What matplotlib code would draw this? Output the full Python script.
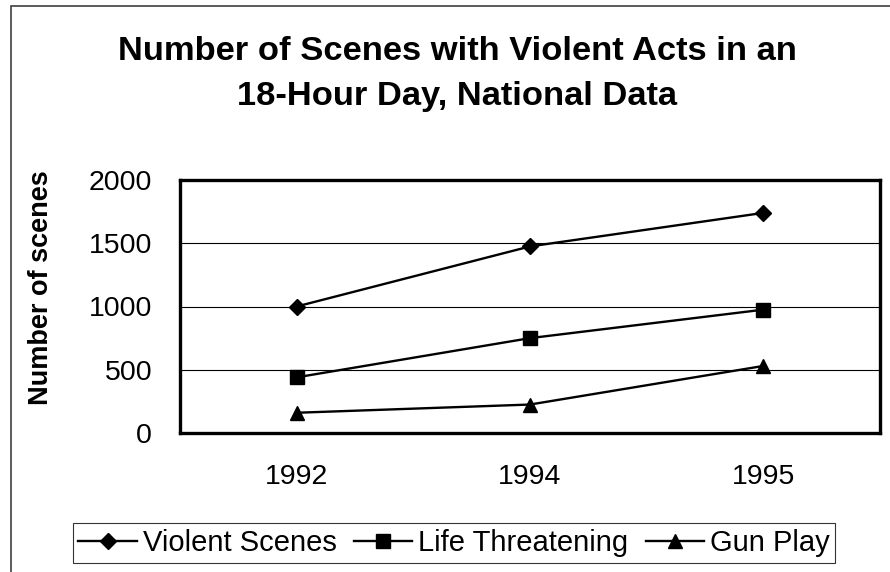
import matplotlib.pyplot as plt
from matplotlib.patches import Rectangle

plt.rcParams['font.family'] = ['Liberation Sans', 'DejaVu Sans']

# Datos
years = ['1992', '1994', '1995']
violent_scenes = [1000, 1475, 1740]
life_threatening = [440, 750, 975]
gun_play = [160, 225, 530]

fig = plt.figure(figsize=(8.9, 5.72), dpi=100)
ax = fig.add_axes([180 / 890, 1 - 433 / 572, 700 / 890, 253 / 572])

x = range(len(years))
ax.plot(x, violent_scenes, color='black', lw=1.7, marker='D', ms=7.8, label='Violent Scenes')
ax.plot(x, life_threatening, color='black', lw=1.7, marker='s', ms=10, label='Life Threatening')
ax.plot(x, gun_play, color='black', lw=1.7, marker='^', ms=10, label='Gun Play')

ax.set_xlim(-0.5, 2.5)
ax.set_ylim(0, 2000)
ax.set_xticks(list(x))
ax.set_xticklabels(years)
ax.set_yticks([0, 500, 1000, 1500, 2000])
ax.tick_params(axis='both', length=0, labelsize=20.5)
ax.tick_params(axis='x', pad=22)
ax.tick_params(axis='y', pad=20)
for s in ax.spines.values():
    s.set_linewidth(2.4)
for v in [500, 1000, 1500]:
    ax.axhline(v, color='black', lw=0.8, zorder=0)

fig.text(41 / 890, 1 - 288 / 572, 'Number of scenes', rotation=90, fontsize=19.5,
         fontweight='bold', ha='center', va='center')

fig.text(457 / 890, 1 - 74 / 572, 'Number of Scenes with Violent Acts in an\n18-Hour Day, National Data',
         fontsize=24.8, fontweight='bold', ha='center', va='center', linespacing=1.62)

leg = fig.legend(loc='center', bbox_to_anchor=(454 / 890, 1 - 543 / 572), ncol=3,
                 fontsize=21, frameon=True, fancybox=False, handlelength=2.0,
                 handletextpad=0.2, columnspacing=0.6, borderpad=0.2, borderaxespad=0)
leg.get_frame().set_edgecolor('black')
leg.get_frame().set_linewidth(0.8)

# marco exterior del gráfico
fig.patches.append(Rectangle((11 / 890, -0.1), 1.2, 1 - 6 / 572 + 0.1, transform=fig.transFigure,
                             fill=False, edgecolor='#404040', lw=1.2))

fig.savefig('out.png', dpi=100)
